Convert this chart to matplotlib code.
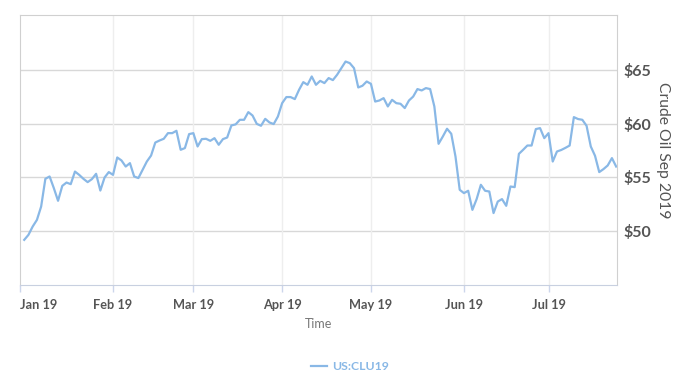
import matplotlib
matplotlib.use("Agg")
from matplotlib import pyplot as plt
import pandas as pd
import numpy as np

# daily settle prices, US:CLU19 (Crude Oil Sep 2019)
prices = [
    49.13, 49.6, 50.38, 51.0, 52.25, 54.85, 55.07, 53.98, 52.79, 54.19,
    54.5, 54.35, 55.53, 55.22, 54.85, 54.54, 54.82, 55.32, 53.75, 54.97,
    55.48, 55.22, 56.85, 56.57, 56.0, 56.32, 55.07, 54.92, 55.7, 56.47,
    57.03, 58.25, 58.44, 58.6, 59.13, 59.13, 59.35, 57.57, 57.73, 59.04,
    59.13, 57.88, 58.57, 58.6, 58.41, 58.66, 58.04, 58.57, 58.72, 59.85,
    59.95, 60.38, 60.38, 61.1, 60.78, 60.0, 59.82, 60.47, 60.13, 59.98,
    60.69, 61.94, 62.51, 62.51, 62.32, 63.19, 63.91, 63.66, 64.44, 63.66,
    64.03, 63.82, 64.29, 64.1, 64.6, 65.22, 65.84, 65.69, 65.22, 63.41,
    63.57, 63.97, 63.75, 62.09, 62.19, 62.41, 61.63, 62.25, 61.94, 61.88,
    61.48, 62.19, 62.56, 63.26, 63.13, 63.35, 63.26, 61.63, 58.13, 58.81,
    59.54, 59.07, 56.94, 53.82, 53.51, 53.73, 51.94, 52.95, 54.29, 53.73,
    53.66, 51.64, 52.72, 52.95, 52.32, 54.13, 54.07, 57.19, 57.57, 57.97,
    57.97, 59.51, 59.6, 58.66, 59.13, 56.47, 57.41, 57.55, 57.75, 57.97,
    60.63, 60.45, 60.38, 59.82, 57.88, 57.01, 55.48, 55.76, 56.1, 56.79, 56.0,
]
holidays = ["2019-01-21", "2019-02-18", "2019-04-19", "2019-05-27", "2019-07-04"]
months = ["2019-01-01", "2019-02-01", "2019-03-01", "2019-04-01",
          "2019-05-01", "2019-06-01", "2019-07-01"]
month_labels = ["Jan 19", "Feb 19", "Mar 19", "Apr 19", "May 19", "Jun 19", "Jul 19"]
price_ticks = [50, 55, 60, 65]

# trading days (ordinal axis, like the stock chart)
bday = pd.offsets.CustomBusinessDay(holidays=holidays)
dates = pd.date_range("2019-01-02", periods=len(prices), freq=bday)
idx = np.arange(len(prices))
tick_pos = [int(dates.searchsorted(pd.Timestamp(m))) for m in months]
tick_pos[0] = -1  # Jan 1 was a holiday, tick sits at the axis start

plt.rcParams['font.family'] = ['Lato', 'DejaVu Sans']

fig = plt.figure(figsize=(6.8, 3.85), dpi=100)
ax = fig.add_axes([20/680, 1-285/385, (617-20)/680, (285-15)/385])

line_col = "#89b8e6"
ax.plot(idx, prices, color=line_col, lw=1.6, label="US:CLU19", solid_joinstyle="round")

ax.set_xlim(-1, 140.2)
ax.set_ylim(44.9, 70.2)

ax.set_yticks(price_ticks)
ax.set_yticklabels(["$%d" % p for p in price_ticks])
ax.yaxis.tick_right()
ax.yaxis.set_label_position("right")
ax.tick_params(axis="y", length=0, pad=5, labelsize=11.5, labelcolor="#555555")
for t in ax.get_yticklabels():
    t.set_fontweight("bold")
ax.set_ylabel("Crude Oil Sep 2019", rotation=270, labelpad=13,
              fontsize=11.3, color="#555555")

ax.set_xticks(tick_pos)
ax.set_xticklabels(month_labels)
ax.tick_params(axis="x", length=5, width=1, color="#ccd6eb", pad=5,
               labelsize=9.2, labelcolor="#555555")
for t in ax.get_xticklabels():
    t.set_fontweight("bold")
ax.get_xticklabels()[0].set_ha("left")
ax.set_xlabel("Time", fontsize=9, color="#777777", labelpad=5)

for y in price_ticks:
    ax.axhline(y, color="#d8d8d8", lw=1, zorder=0)
for x in tick_pos[1:]:
    ax.axvline(x, color="#eeeeee", lw=1, zorder=0)

for s in ["top", "right", "left"]:
    ax.spines[s].set_color("#d0d0d0")
ax.spines["bottom"].set_color("#c8d0e0")

leg = fig.legend(loc="center", bbox_to_anchor=(350/680, 1-367/385), frameon=False,
                 handlelength=1.3, handletextpad=0.4, fontsize=8.8)
for t in leg.get_texts():
    t.set_color(line_col)
    t.set_fontweight("bold")

fig.savefig("out.png", dpi=100)
